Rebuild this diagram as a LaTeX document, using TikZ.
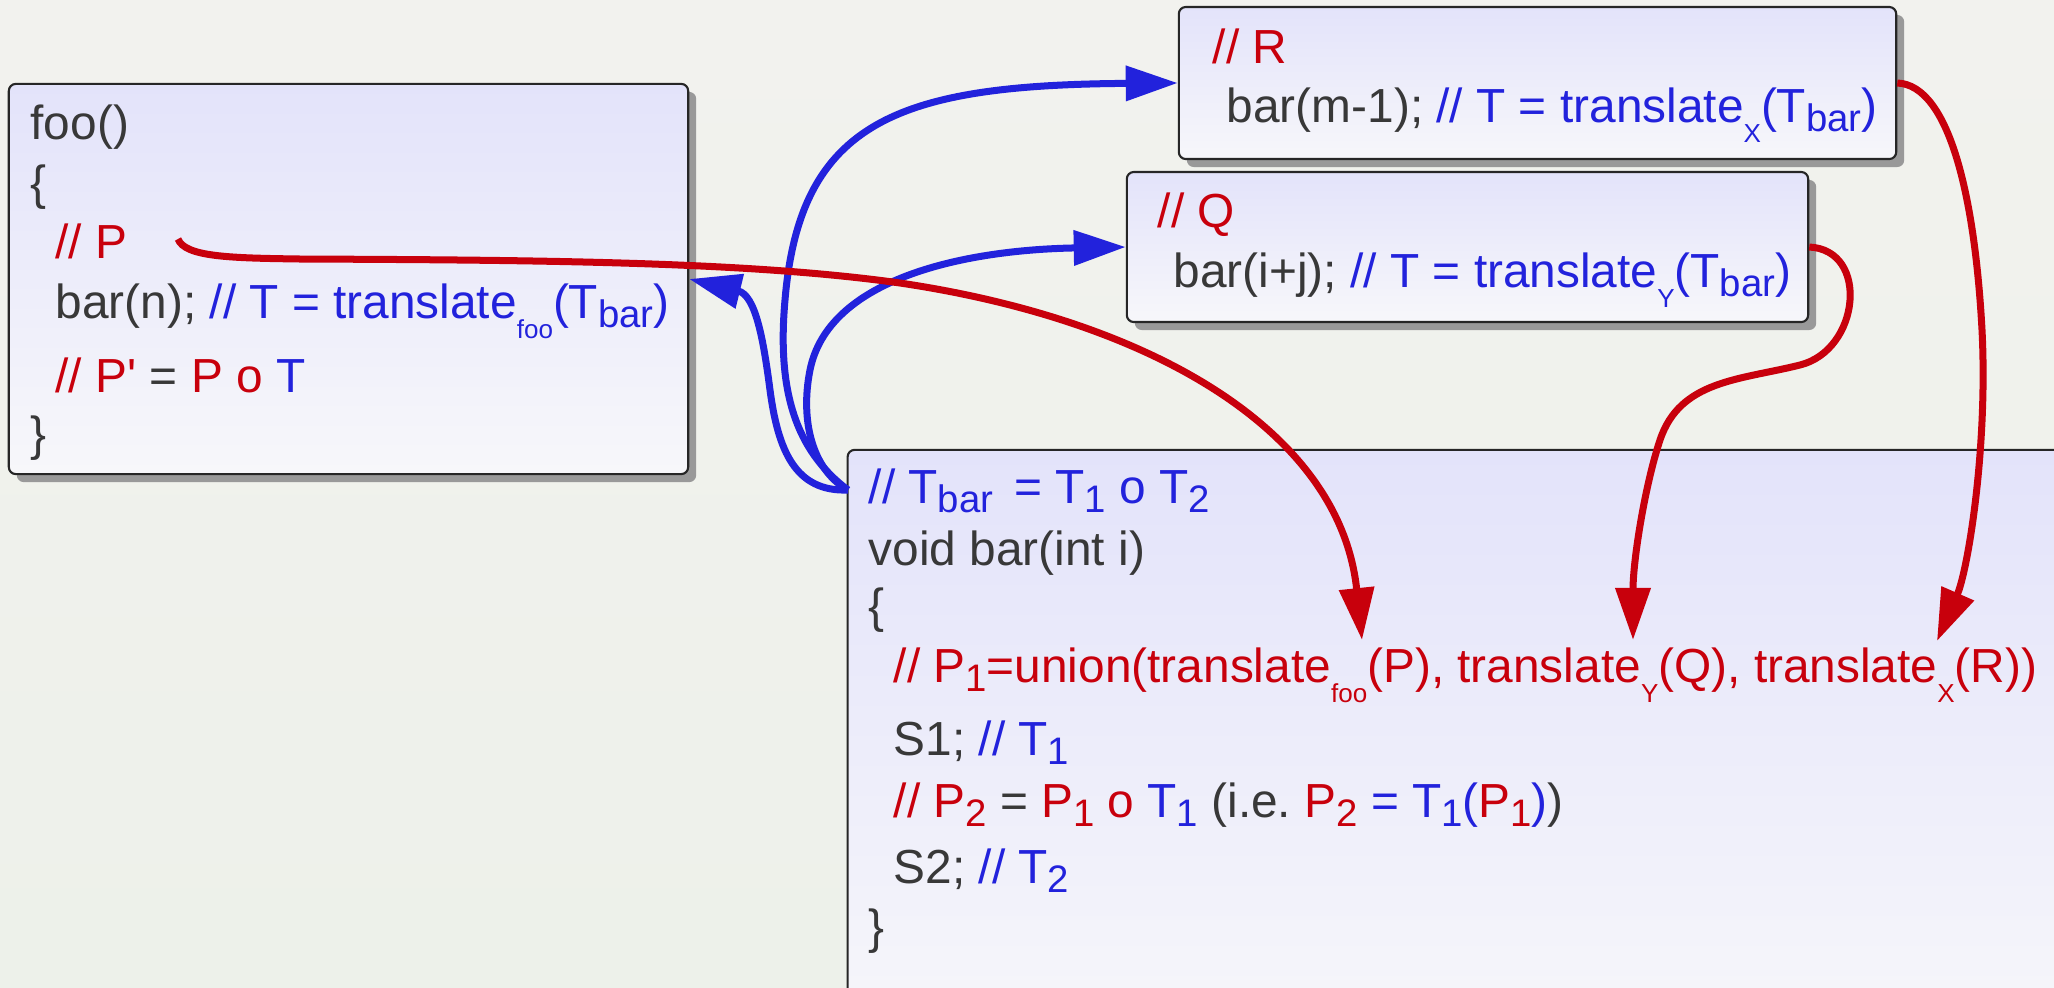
\documentclass[tikz,border=0pt]{standalone}
\usepackage{fontspec}
\setmainfont{Liberation Sans}
\usetikzlibrary{arrows.meta,shadows}
\definecolor{cred}{RGB}{200,0,12}
\definecolor{cblue}{RGB}{34,34,220}
\definecolor{cgray}{RGB}{56,56,56}
\definecolor{boxtop}{RGB}{227,227,250}
\definecolor{boxbot}{RGB}{247,247,250}
\definecolor{bgtop}{RGB}{242,242,238}
\definecolor{bgbot}{RGB}{237,241,234}
\newcommand{\lsub}[1]{\raisebox{-0.2em}{\fontsize{10.9}{11}\selectfont #1}}
\newcommand{\ssub}[1]{\raisebox{-0.42em}{\fontsize{7.4}{7}\selectfont #1}}
\newcommand{\rd}[1]{\textcolor{cred}{#1}}
\newcommand{\bl}[1]{\textcolor{cblue}{#1}}
\begin{document}
\begin{tikzpicture}[x=0.01cm,y=-0.01cm,
  every node/.style={font=\fontsize{13.6}{16}\selectfont,text=cgray,inner sep=0pt},
  box/.style={draw=black!85,line width=0.6pt,rounded corners=2pt,top color=boxtop,bottom color=boxbot,
    drop shadow={opacity=1,fill=black!40,shadow xshift=0.08cm,shadow yshift=-0.08cm}},
  ln/.style={anchor=base west},
  e/.style={-{Triangle[length=0.52cm,width=0.34cm]},line width=0.07cm},
  er/.style={e,draw=cred},eb/.style={e,draw=cblue}]
\useasboundingbox (0,0) rectangle (2054,987);
\clip (0,0) rectangle (2054,987);
\fill[top color=bgtop,bottom color=bgbot] (0,0) rectangle (2054,987);
% boxes
\node[box,minimum width=6.79cm,minimum height=3.9cm] (FooBox) at (348.5,279) {};
\node[box,minimum width=7.17cm,minimum height=1.52cm] (RBox) at (1537.5,83) {};
\node[box,minimum width=6.81cm,minimum height=1.5cm] (QBox) at (1467.5,247) {};
\node[box,minimum width=12.6cm,minimum height=6cm] (BarBox) at (1478,750) {};
% foo
\node[ln] (FooHead) at (30,139) {foo()};
\node[ln] (FooOpen) at (30,199) {\{};
\node[ln] (FooP) at (55,258) {\rd{// P}};
\node[ln] (FooCall) at (55,318) {bar(n); \bl{// T = translate\ssub{foo}(T\lsub{bar})}};
\node[ln] (FooPost) at (55,392) {\rd{// P\textquotesingle} = \rd{P o} \bl{T}};
\node[ln] (FooClose) at (30,450) {\}};
% R and Q
\node[ln] (RCom) at (1212,63) {\rd{// R}};
\node[ln] (RCall) at (1226,122) {bar(m-1); \bl{// T = translate\ssub{X}(T\lsub{bar})}};
\node[ln] (QCom) at (1157,227) {\rd{// Q}};
\node[ln] (QCall) at (1173,287) {bar(i+j); \bl{// T = translate\ssub{Y}(T\lsub{bar})}};
% bar
\node[ln] (BarTrans) at (868,503) {\bl{// T\lsub{bar}\, = T\lsub{1} o T\lsub{2}}};
\node[ln] (BarHead) at (868,565) {void bar(int i)};
\node[ln] (BarOpen) at (868,622) {\{};
\node[ln] (BarUnion) at (893,682) {\rd{// P\lsub{1}=union(translate\ssub{foo}(P), translate\ssub{Y}(Q), translate\ssub{X}(R))}};
\node[ln] (BarS1) at (893,755) {S1; \bl{// T\lsub{1}}};
\node[ln] (BarPost) at (893,817) {\rd{// P\lsub{2}} = \rd{P\lsub{1} o} \bl{T\lsub{1}} (i.e.\ \rd{P\lsub{2}} \bl{= T\lsub{1}(}\rd{P\lsub{1}}\bl{)})};
\node[ln] (BarS2) at (893,883) {S2; \bl{// T\lsub{2}}};
\node[ln] (BarClose) at (868,943) {\}};
% arrow ends
\coordinate (PStart) at (178,239);
\coordinate (TbarIn) at (848,490);
\coordinate (TipFoo) at (1362,640);
\coordinate (TipY) at (1633,640);
\coordinate (TipX) at (1937,641);
% T flows back to the callers
\draw[eb] (TbarIn) .. controls (795,492) and (778,450) .. (770,390) .. controls (763,336) and (755,295) .. (FooBox.east);
\draw[eb] (TbarIn) .. controls (795,450) and (777,390) .. (785,300) .. controls (800,120) and (900,85) .. (RBox.west);
\draw[eb] (TbarIn) .. controls (812,470) and (800,420) .. (810,370) .. controls (828,280) and (960,250) .. (QBox.west);
% P flows into bar
\draw[er] (PStart) .. controls (185,257) and (230,258) .. (300,259) .. controls (550,260) and (750,262) .. (900,283) .. controls (1150,320) and (1340,430) .. (TipFoo);
\draw[er] (QBox.east) .. controls (1870,250) and (1860,350) .. (1800,365) .. controls (1740,380) and (1680,380) .. (1660,440) .. controls (1645,485) and (1633,560) .. (TipY);
\draw[er] (RBox.east) .. controls (1950,85) and (1975,200) .. (1982,330) .. controls (1988,447) and (1968,570) .. (TipX);
\end{tikzpicture}
\end{document}
